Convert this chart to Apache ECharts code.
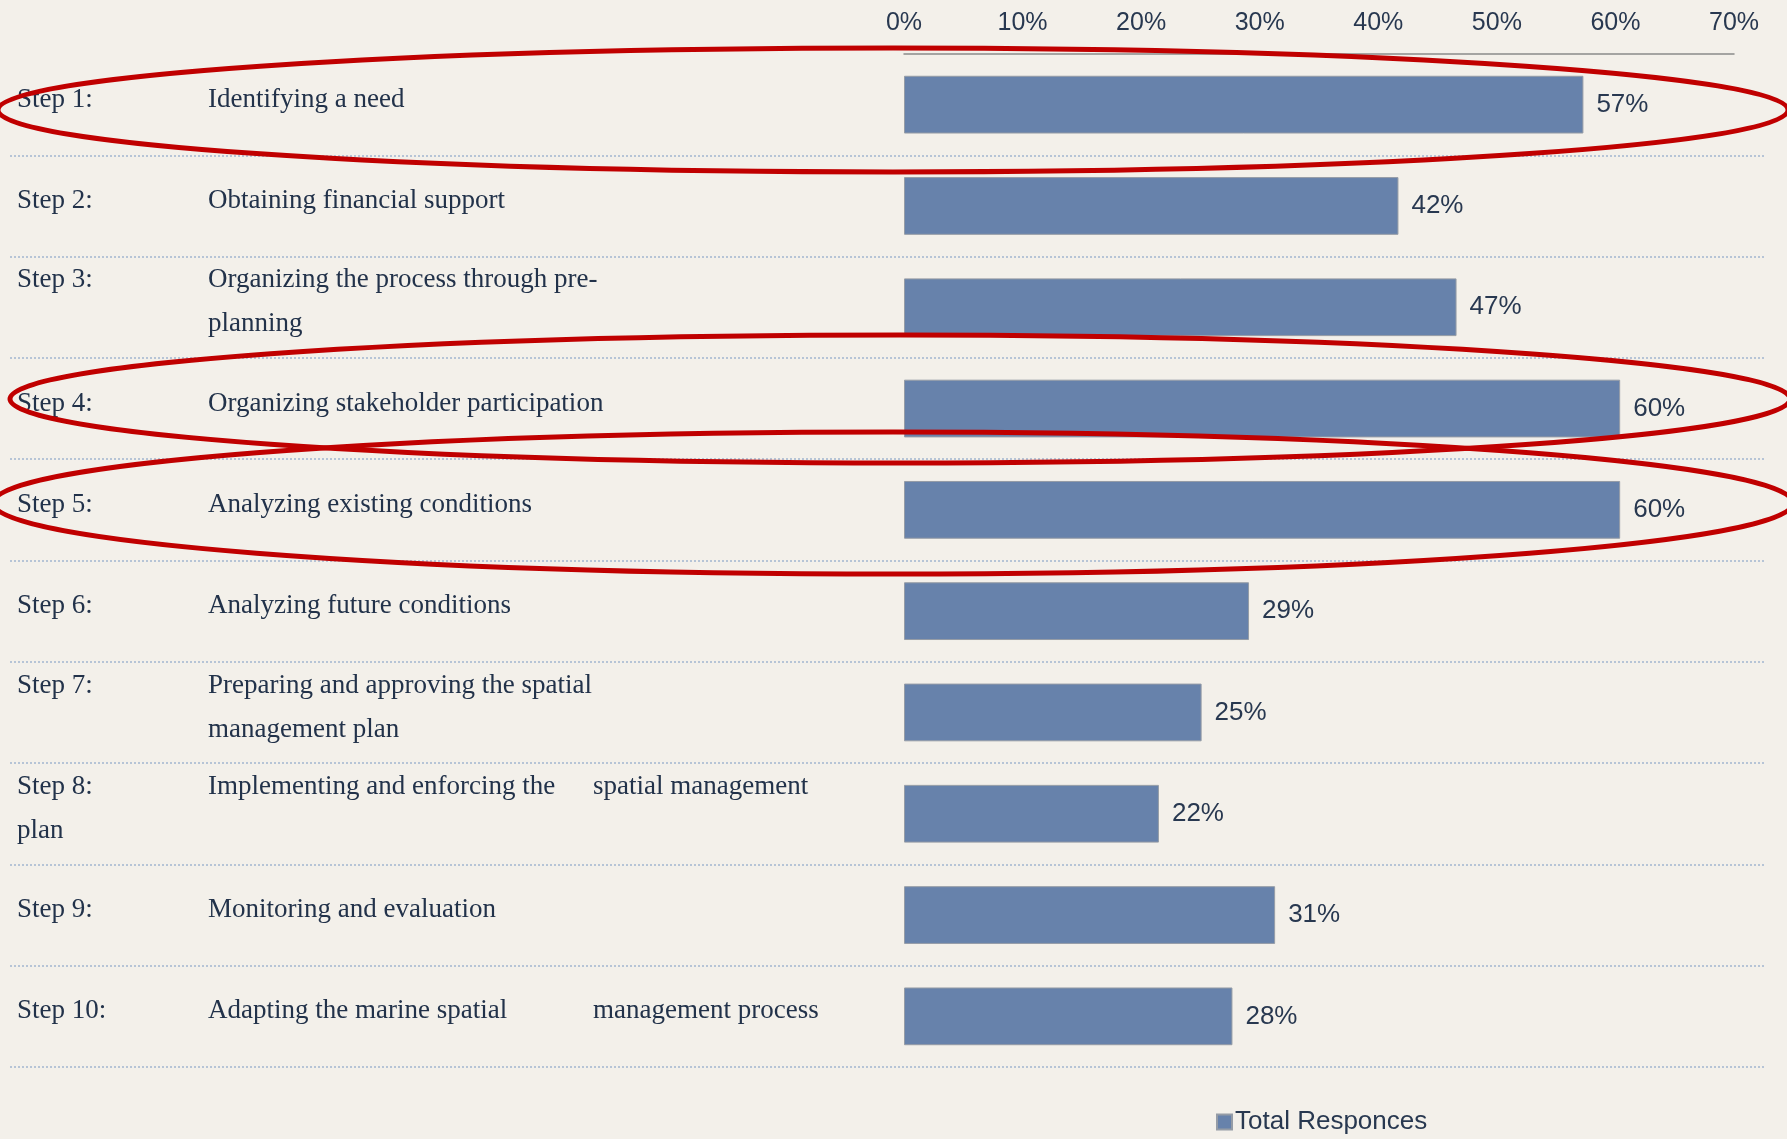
<!DOCTYPE html>
<html>
<head>
<meta charset="utf-8">
<script src="https://cdn.jsdelivr.net/npm/echarts@6/dist/echarts.min.js"></script>
<style>
html,body{margin:0;padding:0;background:#f3f0ea;}
#chart{width:1787px;height:1139px;}
</style>
</head>
<body>
<div id="chart"></div>
<script>
// Data
var stepNames = ['Step 1:', 'Step 2:', 'Step 3:', 'Step 4:', 'Step 5:', 'Step 6:', 'Step 7:', 'Step 8:', 'Step 9:', 'Step 10:'];
var stepDescriptions = [
  '{d|Identifying a need}',
  '{d|Obtaining financial support}',
  '{d|Organizing the process through pre-}\n{s| }{d|planning}',
  '{d|Organizing stakeholder participation}',
  '{d|Analyzing existing conditions}',
  '{d|Analyzing future conditions}',
  '{d|Preparing and approving the spatial}\n{s| }{d|management plan}',
  '{a|Implementing and enforcing the}{d|spatial management}\n{d|plan}',
  '{d|Monitoring and evaluation}',
  '{a|Adapting the marine spatial}{d|management process}'
];
// bar lengths (labels show rounded values)
var totalResponses = [57.3, 41.7, 46.6, 60.4, 60.4, 29.1, 25.1, 21.5, 31.3, 27.7];
var seriesName = 'Total Responces';
var axisTicks = [0, 10, 20, 30, 40, 50, 60, 70];

var categories = stepNames.slice();
var labelMap = {};
stepNames.forEach(function (s, i) { labelMap[s] = '{s|' + s + '}' + stepDescriptions[i]; });

var chart = echarts.init(document.getElementById('chart'));
var serif = '"Liberation Serif", "DejaVu Serif", serif';
var sans = '"Liberation Sans", Arial, sans-serif';
var textColor = '#22324a';

var option = {
  backgroundColor: '#f3f0ea',
  animation: false,
  grid: [
    { left: 904, right: 53, top: 54, height: 1013, containLabel: false },
    { left: 10, right: 22, top: 155.3, height: 911.7, containLabel: false }
  ],
  xAxis: [
    {
      type: 'value', gridIndex: 0, position: 'top',
      min: axisTicks[0], max: axisTicks[axisTicks.length - 1], interval: 10,
      axisLine: { show: true, lineStyle: { color: '#8a8a8a', width: 1.5 } },
      axisTick: { show: false },
      splitLine: { show: false },
      axisLabel: { formatter: '{value}%', fontFamily: sans, fontSize: 25, color: '#283850', margin: 18 }
    },
    { type: 'value', gridIndex: 1, min: 0, max: 1, show: false }
  ],
  yAxis: [
    {
      type: 'category', gridIndex: 0, inverse: true, data: categories,
      axisLine: { show: false }, axisTick: { show: false }, splitLine: { show: false },
      axisLabel: {
        align: 'left', margin: 887, padding: [0, 0, 10, 0],
        lineHeight: 44,
        formatter: function (v) { return labelMap[v]; },
        rich: {
          s: { width: 191, fontFamily: serif, fontSize: 27, color: textColor, lineHeight: 44 },
          d: { fontFamily: serif, fontSize: 27, color: textColor, lineHeight: 44 },
          a: { width: 385, fontFamily: serif, fontSize: 27, color: textColor, lineHeight: 44 }
        }
      }
    },
    {
      type: 'value', gridIndex: 1, inverse: true, min: 0, max: 9, interval: 1,
      axisLine: { show: false }, axisTick: { show: false }, axisLabel: { show: false },
      splitLine: { show: true, lineStyle: { color: '#a3b5d0', type: [2, 2], width: 1.5 } }
    }
  ],
  legend: {
    data: [seriesName], left: 1211, top: 1104, icon: 'rect',
    itemWidth: 15, itemHeight: 15, itemGap: 10,
    textStyle: { fontFamily: sans, fontSize: 26, color: '#283850', padding: [0, 0, 0, -2] }
  },
  series: [
    {
      name: seriesName, type: 'bar', xAxisIndex: 0, yAxisIndex: 0,
      data: totalResponses, barCategoryGap: '43%',
      itemStyle: { color: '#6782ab', borderColor: '#959ca6', borderWidth: 1 },
      label: {
        show: true, position: 'right', distance: 13,
        formatter: function (p) { return Math.round(p.value) + '%'; },
        fontFamily: sans, fontSize: 26, color: '#283850'
      }
    },
    { type: 'scatter', xAxisIndex: 1, yAxisIndex: 1, data: [], silent: true }
  ],
  graphic: [
    { type: 'ellipse', z: 100, silent: true, shape: { cx: 893, cy: 110, rx: 895, ry: 62 }, style: { fill: 'none', stroke: '#c00000', lineWidth: 5 } },
    { type: 'ellipse', z: 100, silent: true, shape: { cx: 900, cy: 399, rx: 890, ry: 64 }, style: { fill: 'none', stroke: '#c00000', lineWidth: 5 } },
    { type: 'ellipse', z: 100, silent: true, shape: { cx: 893, cy: 503, rx: 900, ry: 71 }, style: { fill: 'none', stroke: '#c00000', lineWidth: 5 } }
  ]
};
chart.setOption(option);
</script>
</body>
</html>
